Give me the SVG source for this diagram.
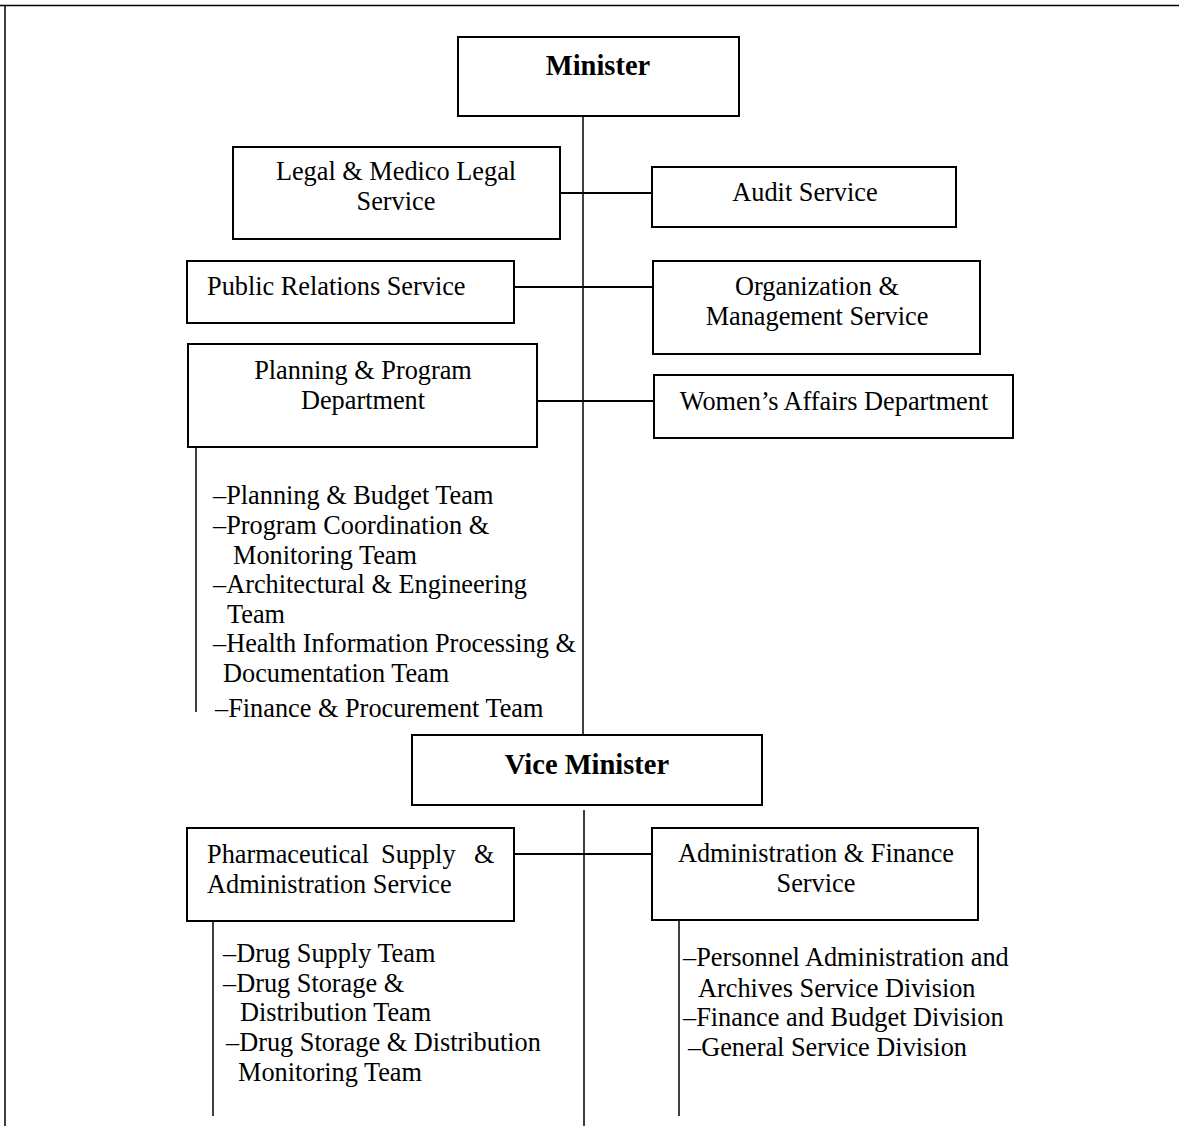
<svg xmlns="http://www.w3.org/2000/svg" width="1179" height="1126" viewBox="0 0 1179 1126">
<style>
.box{fill:#fff;stroke:#000;stroke-width:2}
.ln{stroke:#000;stroke-width:2;fill:none}
.vl{stroke:#000;stroke-width:1.5;fill:none}
text{font-family:"Liberation Serif","Times New Roman",serif;font-size:26.3px;fill:#000}
.b{font-weight:bold;font-size:28.5px}
.c{text-anchor:middle}
</style>
<rect width="1179" height="1126" fill="#fff"/>
<path class="vl" d="M0 5.5H1179M5 5V1126"/>
<g id="connectors">
<path class="vl" d="M583 116V735"/>
<path class="vl" d="M584 810V1126"/>
<path class="ln" d="M560 193H652M514 287H653M537 401H654M514 854H652"/>
<path class="vl" d="M196 447V712M213 921V1116M679 920V1116"/>
</g>
<g id="minister"><rect class="box" x="458" y="37" width="281" height="79"/><text class="b c" x="598" y="75">Minister</text></g>
<g id="legal"><rect class="box" x="233" y="147" width="327" height="92"/><text class="c" x="396" y="180">Legal &amp; Medico Legal</text><text class="c" x="396" y="210">Service</text></g>
<g id="audit"><rect class="box" x="652" y="167" width="304" height="60"/><text class="c" x="805" y="201">Audit Service</text></g>
<g id="pr"><rect class="box" x="187" y="261" width="327" height="62"/><text x="207" y="295">Public Relations Service</text></g>
<g id="om"><rect class="box" x="653" y="261" width="327" height="93"/><text class="c" x="817" y="295">Organization &amp;</text><text class="c" x="817" y="325">Management Service</text></g>
<g id="planning"><rect class="box" x="188" y="344" width="349" height="103"/><text class="c" x="363" y="379">Planning &amp; Program</text><text class="c" x="363" y="409">Department</text></g>
<g id="women"><rect class="box" x="654" y="375" width="359" height="63"/><text class="c" x="834" y="410">Women’s Affairs Department</text></g>
<g id="planning-teams">
<text x="213" y="504">–Planning &amp; Budget Team</text>
<text x="213" y="534">–Program Coordination &amp;</text>
<text x="233" y="564">Monitoring Team</text>
<text x="213" y="593">–Architectural &amp; Engineering</text>
<text x="227" y="623">Team</text>
<text x="213" y="652">–Health Information Processing &amp;</text>
<text x="223" y="682">Documentation Team</text>
<text x="215" y="717">–Finance &amp; Procurement Team</text>
</g>
<g id="vice"><rect class="box" x="412" y="735" width="350" height="70"/><text class="b c" x="587" y="774">Vice Minister</text></g>
<g id="pharma"><rect class="box" x="187" y="828" width="327" height="93"/><text y="863"><tspan x="207">Pharmaceutical</tspan><tspan x="381">Supply</tspan><tspan x="474">&amp;</tspan></text><text x="207" y="893">Administration Service</text></g>
<g id="admin"><rect class="box" x="652" y="828" width="326" height="92"/><text class="c" x="816" y="862">Administration &amp; Finance</text><text class="c" x="816" y="892">Service</text></g>
<g id="pharma-teams">
<text x="223" y="962">–Drug Supply Team</text>
<text x="223" y="992">–Drug Storage &amp;</text>
<text x="240" y="1021">Distribution Team</text>
<text x="226" y="1051">–Drug Storage &amp; Distribution</text>
<text x="238" y="1081">Monitoring Team</text>
</g>
<g id="admin-divisions">
<text x="683" y="966">–Personnel Administration and</text>
<text x="698" y="997">Archives Service Division</text>
<text x="683" y="1026">–Finance and Budget Division</text>
<text x="688" y="1056">–General Service Division</text>
</g>
</svg>
